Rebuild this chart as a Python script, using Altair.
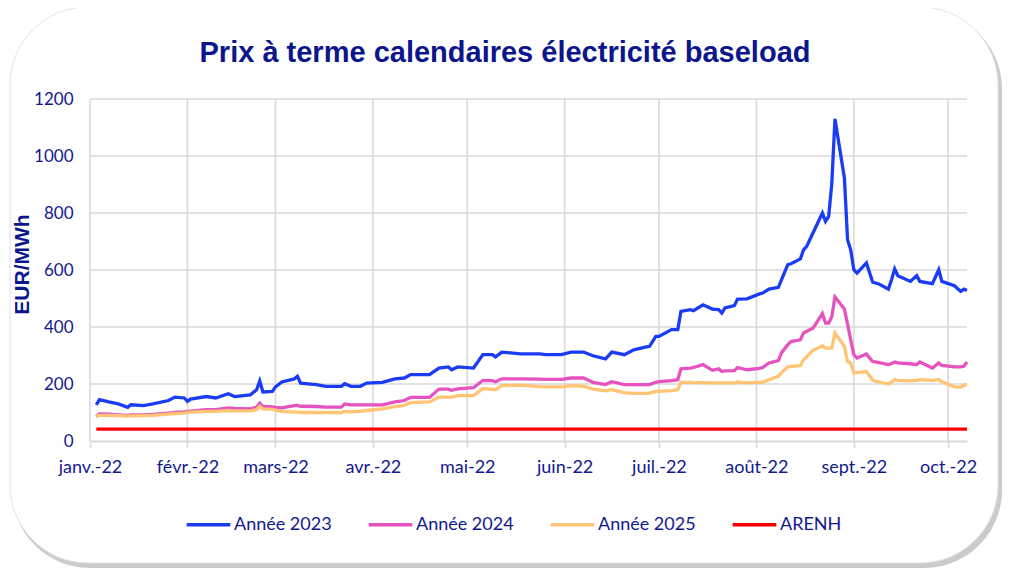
import altair as alt
import pandas as pd

# dates (2022) and forward prices, EUR/MWh
dates = [
    "01-03", "01-04", "01-07", "01-10", "01-13", "01-14", "01-18", "01-21", "01-26", "01-28", "01-31",
    "02-01", "02-02", "02-07", "02-10", "02-14", "02-16", "02-21", "02-23", "02-24", "02-25", "02-28",
    "03-01", "03-03", "03-07", "03-08", "03-09", "03-14", "03-17", "03-22", "03-23", "03-25", "03-28", "03-30",
    "04-04", "04-08", "04-11", "04-13", "04-19", "04-22", "04-25", "04-26", "04-28",
    "05-03", "05-06", "05-09", "05-10", "05-12", "05-18", "05-24", "05-26", "05-31",
    "06-03", "06-07", "06-10", "06-14", "06-16", "06-20", "06-23", "06-27", "06-28", "06-30",
    "07-01", "07-05", "07-07", "07-08", "07-11", "07-12", "07-15", "07-18", "07-20", "07-21", "07-22", "07-25", "07-26", "07-29",
    "08-02", "08-03", "08-05", "08-08", "08-09", "08-11", "08-12", "08-15", "08-16", "08-17", "08-19", "08-22", "08-23", "08-24", "08-25", "08-26", "08-29", "08-30", "08-31",
    "09-01", "09-02", "09-05", "09-07", "09-09", "09-12", "09-13", "09-14", "09-15", "09-19", "09-21", "09-22", "09-26", "09-28", "09-29",
    "10-03", "10-05", "10-06", "10-07",
]

annee_2023 = [
    127, 145, 137, 130, 118, 127, 124, 130, 142, 154, 151,
    139, 147, 156, 151, 166, 156, 162, 180, 211, 172, 174,
    190, 207, 218, 227, 203, 198, 192, 192, 201, 192, 192, 203,
    206, 218, 221, 233, 233, 256, 260, 250, 260,
    256, 303, 303, 295, 312, 306, 306, 303, 303,
    312, 312, 299, 288, 312, 303, 320, 330, 332, 367,
    367, 391, 391, 455, 461, 457, 478, 463, 461, 449, 467, 475, 498, 499,
    516, 519, 533, 539, 566, 619, 622, 639, 671, 683, 730, 800, 771, 788, 905, 1130, 923, 706, 671,
    601, 589, 625, 557, 551, 533, 566, 604, 580, 560, 580, 560, 552, 601, 560,
    545, 525, 533, 528,
]

annee_2024 = [
    86, 95, 94, 92, 90, 92, 92, 93, 98, 100, 102,
    104, 105, 110, 110, 116, 114, 113, 118, 133, 121, 120,
    118, 116, 124, 125, 122, 121, 119, 119, 130, 127, 127, 127,
    127, 137, 142, 153, 153, 182, 182, 178, 183,
    187, 213, 212, 208, 218, 218, 217, 216, 216,
    221, 221, 206, 198, 208, 198, 198, 198, 198, 206,
    208, 212, 215, 253, 256, 258, 268, 248, 253, 244, 246, 247, 258, 250,
    255, 258, 274, 282, 310, 338, 349, 355, 379, 385, 396, 447, 414, 414, 437, 505, 463, 410, 355,
    303, 291, 305, 279, 275, 268, 272, 277, 274, 271, 268, 277, 256, 274, 265,
    260, 260, 262, 277,
]

annee_2025 = [
    85, 90, 90, 89, 87, 88, 89, 90, 94, 96, 98,
    100, 101, 104, 104, 107, 106, 106, 110, 122, 113, 112,
    108, 104, 101, 101, 100, 100, 100, 100, 104, 102, 104, 107,
    113, 121, 125, 135, 137, 154, 154, 154, 159,
    159, 184, 181, 180, 194, 196, 191, 190, 190,
    194, 192, 182, 176, 180, 170, 167, 167, 168, 174,
    174, 177, 180, 206, 206, 205, 205, 204, 204, 204, 204, 204, 207, 204,
    206, 206, 215, 227, 240, 260, 262, 264, 285, 295, 318, 334, 326, 326, 326, 379, 332, 279, 274,
    239, 240, 244, 213, 207, 200, 207, 215, 213, 211, 213, 215, 213, 215, 208,
    190, 189, 195, 200,
]

arenh = 42

series = ["Année 2023", "Année 2024", "Année 2025", "ARENH"]
colors = ["#1a3cf7", "#e653c0", "#ffc474", "#ff0000"]

month_starts = ["2022-%02d-01T00:00" % m for m in range(1, 11)]
month_names = ["janv.", "févr.", "mars", "avr.", "mai", "juin", "juil.", "août", "sept.", "oct."]
y_ticks = [200, 400, 600, 800, 1000, 1200]
title_text = "Prix à terme calendaires électricité baseload"

assert len(dates) == len(annee_2023) == len(annee_2024) == len(annee_2025)

full_dates = ["2022-" + d + "T00:00" for d in dates]
rows = []
for name, vals in zip(series, [annee_2023, annee_2024, annee_2025, [arenh] * len(dates)]):
    for d, v in zip(full_dates, vals):
        rows.append({"date": d, "prix": v, "serie": name})
df = pd.DataFrame(rows)

navy = "#12188e"
grid = "#d9d9d9"
W, H = 877, 342

x_scale = alt.Scale(domain=["2022-01-01T00:00", "2022-10-07T00:00"])
y_scale = alt.Scale(domain=[0, 1200])

# rounded frame with a soft shadow behind the whole chart
frame_df = pd.DataFrame({"k": [0]})
shadow = alt.Chart(frame_df).mark_rect(
    cornerRadius=78, fill="#a8a8a8", opacity=0.6
).encode(x=alt.value(-78), x2=alt.value(912), y=alt.value(-88), y2=alt.value(469))
frame = alt.Chart(frame_df).mark_rect(
    cornerRadius=78, fill="white", stroke="#e2e2e2", strokeWidth=1
).encode(x=alt.value(-80), x2=alt.value(908), y=alt.value(-92), y2=alt.value(464))

title = alt.Chart(pd.DataFrame({"t": [title_text]})).mark_text(
    font="Liberation Sans", fontSize=29, fontWeight="bold", color="#0c168c",
    align="center", baseline="alphabetic"
).encode(text="t:N", x=alt.value(415), y=alt.value(-37))

vgrid = alt.Chart(pd.DataFrame({"m": month_starts})).mark_rule(
    color=grid, strokeWidth=1.6
).encode(x=alt.X("m:T", scale=x_scale))
hgrid = alt.Chart(pd.DataFrame({"v": y_ticks})).mark_rule(
    color=grid, strokeWidth=1.6
).encode(y=alt.Y("v:Q", scale=y_scale))

label_expr = "[" + ",".join("'%s'" % m for m in month_names) + "][month(datum.value)] + '-22'"

lines = alt.Chart(df).mark_line(strokeWidth=3.3).encode(
    x=alt.X(
        "date:T",
        scale=x_scale,
        axis=alt.Axis(
            title=None,
            values=[alt.DateTime(year=2022, month=m, date=1) for m in range(1, 11)],
            labelExpr=label_expr,
            labelFlush=False,
            grid=False,
            domainColor=grid,
            domainWidth=2,
            tickColor=grid,
            tickWidth=1.6,
            tickSize=7,
            labelPadding=10,
            labelFont="Lato",
            labelFontSize=18,
            labelColor=navy,
            labelAngle=0,
            zindex=1,
        ),
    ),
    y=alt.Y(
        "prix:Q",
        scale=y_scale,
        axis=alt.Axis(
            title="EUR/MWh",
            values=[0] + y_ticks,
            format="d",
            grid=False,
            domain=False,
            ticks=False,
            labelPadding=17,
            labelFont="Lato",
            labelFontSize=17,
            labelColor=navy,
            titleFont="Liberation Sans",
            titleFontSize=21,
            titleFontWeight="bold",
            titleColor="#0c168c",
            titleAngle=-90,
            titleX=-68,
            titleY=165,
            titleAlign="center",
            titleBaseline="middle",
            zindex=1,
        ),
    ),
    color=alt.Color(
        "serie:N",
        scale=alt.Scale(domain=series, range=colors),
        sort=series,
        legend=alt.Legend(
            title=None,
            orient="none",
            direction="horizontal",
            columns=4,
            legendX=95,
            legendY=402,
            symbolType="stroke",
            symbolSize=1900,
            symbolStrokeWidth=3.3,
            labelFont="Lato",
            labelFontSize=18,
            labelColor=navy,
            labelOffset=2,
            columnPadding=30,
            padding=0,
            zindex=1,
        ),
    ),
)

chart = alt.layer(shadow, frame, title, vgrid, hgrid, lines).properties(
    width=W,
    height=H,
    padding={"left": 82, "top": 91, "right": 36, "bottom": 128},
    autosize=alt.AutoSizeParams(type="none"),
).configure_view(stroke=None)

chart.save("out.html", embed_options={"renderer": "svg", "actions": False})
